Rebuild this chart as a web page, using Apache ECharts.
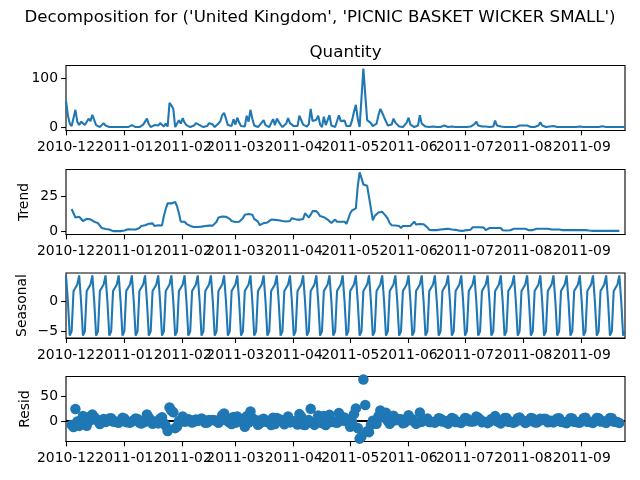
<!DOCTYPE html>
<html>
<head>
<meta charset="utf-8">
<style>html,body{margin:0;padding:0;background:#fff}#c{width:640px;height:480px}</style>
<script src="https://cdn.jsdelivr.net/npm/echarts@6/dist/echarts.min.js"></script>
</head>
<body>
<div id="c"></div>
<script>
const suptitle = "Decomposition for ('United Kingdom', 'PICNIC BASKET WICKER SMALL')";
const panelTitle = "Quantity";
const monthTicks = ['2010-12-01','2011-01-01','2011-02-01','2011-03-01','2011-04-01','2011-05-01','2011-06-01','2011-07-01','2011-08-01','2011-09-01'];
const startDate = '2010-12-01';
const dayCount = 298;

const quantity = [
54,25,8,3,5,36,12,
5,12,12,5,1,18,13,
26,15,5,1,1,3,9,
4,2,1,1,1,1,1,
1,1,1,1,1,1,1,
5,3,1,1,1,1,6,
7,18,7,1,2,5,4,
4,9,6,2,8,2,50,
45,38,1,2,15,8,19,
10,5,3,1,2,4,9,
8,5,3,1,2,3,9,
10,6,1,2,8,13,25,
30,18,5,1,3,17,6,
20,10,3,1,2,24,12,
36,18,4,5,1,2,10,
15,5,1,1,2,17,5,
18,12,6,1,2,8,19,
9,9,3,1,3,24,20,
6,5,2,7,38,13,10,
16,24,6,1,22,5,8,
25,4,1,1,5,25,13,
12,14,3,1,3,15,32,
46,18,1,2,120,67,15,
14,9,3,1,8,25,38,
30,21,22,4,2,6,18,
10,8,2,1,1,3,10,
20,6,2,1,1,4,25,
8,7,2,3,1,1,2,
2,1,1,1,2,4,2,
1,4,2,1,1,1,1,
1,1,1,1,3,2,5,
7,12,4,1,2,3,2,
1,1,1,2,14,4,3,
2,2,1,2,1,2,1,
3,1,2,4,6,4,1,
4,2,1,1,1,1,4,
11,4,1,1,1,2,5,
3,2,1,2,1,1,1,
1,1,1,1,1,1,1,
2,1,1,2.5,1,1,1,
1,1,1,1,1,2.5,1,
1,1,1,1,1,1,1,
1,1,1,1];

const trend = [
null,null,null,16,15.5,10,10.3,
10.5,10.5,7.5,7.5,9,8.7,8.7,
8.5,7,6.5,6,5.5,2.5,2,
1.8,1.7,1.5,0.5,0.3,0.3,0.3,
0.3,0.3,0.4,0.8,1.5,1.6,1.5,
1.5,1.5,1.5,2,2.5,4,4.2,
4.5,5,5.5,5.5,5.8,4,4.3,
4.5,4.5,4.3,11,16,20,20,
20,20.5,21,18,13,7,7.3,
7,5.5,5,4,3.5,3.2,3,
3.2,3.3,3.5,3.5,4,4.2,4.2,
4,4.2,5,7,10,10.5,10.7,
10.5,10.5,11.5,9,7.5,7,6.8,
6.8,7,8,9.5,12,12.5,12.5,
12.5,12,9,8.5,7,4.5,4.5,
6,6.5,6.5,7,8.5,8.5,8.3,
7.5,8,9,7.5,7,7.2,7.3,
7.5,9.5,9.3,8.8,8.5,8.3,8.5,
9,13,11.5,10,12,14.5,15,
14.5,13,11,10.3,10.2,11,8.5,
8.3,6,7,8.5,7,7,7,
7,7,5.5,9,13,15,15.5,
16.5,32,42,38,33.5,33,32.5,
32,16.5,8,11,12,13.5,14,
14,14,11,9,6,4.5,4.5,
4.3,4,4,2.5,4,4,4,
4,4,4.2,7,5,5.2,5.3,
5.3,5.2,5,3,1.2,1,1,
1,1,1.3,1.5,1.5,1.7,2,
2,2,1.5,1.3,1.2,0.8,0.6,
0.5,0.5,0.7,1,1.1,1.3,3,
3,3,3,3,3,2.8,1,
1,2.5,2.5,2.5,2.5,2.5,2.5,
2.5,0.9,0.8,0.8,0.9,0.9,1,
2,2,2,2,2,2,2,
2,0.9,0.8,1,2,2,2,
2,2,2,2,2,1.5,1.5,
1.5,1.5,1.5,1.5,1,1,1,
1,1,1,1,1,1,1,
1,1,1.1,1,0.9,0.7,0.6,
0.5,0.5,0.5,0.5,0.5,0.5,0.5,
0.5,0.5,0.5,0.5,0.5,0.5,0.5,
0.5,null,null,null];

const seasonal = [
4.3,0,-5.7,-5,1.7,1.9,2.8, 4.3,0,-5.7,-5,1.7,1.9,2.8,
4.3,0,-5.7,-5,1.7,1.9,2.8, 4.3,0,-5.7,-5,1.7,1.9,2.8,
4.3,0,-5.7,-5,1.7,1.9,2.8, 4.3,0,-5.7,-5,1.7,1.9,2.8,
4.3,0,-5.7,-5,1.7,1.9,2.8, 4.3,0,-5.7,-5,1.7,1.9,2.8,
4.3,0,-5.7,-5,1.7,1.9,2.8, 4.3,0,-5.7,-5,1.7,1.9,2.8,
4.3,0,-5.7,-5,1.7,1.9,2.8, 4.3,0,-5.7,-5,1.7,1.9,2.8,
4.3,0,-5.7,-5,1.7,1.9,2.8, 4.3,0,-5.7,-5,1.7,1.9,2.8,
4.3,0,-5.7,-5,1.7,1.9,2.8, 4.3,0,-5.7,-5,1.7,1.9,2.8,
4.3,0,-5.7,-5,1.7,1.9,2.8, 4.3,0,-5.7,-5,1.7,1.9,2.8,
4.3,0,-5.7,-5,1.7,1.9,2.8, 4.3,0,-5.7,-5,1.7,1.9,2.8,
4.3,0,-5.7,-5,1.7,1.9,2.8, 4.3,0,-5.7,-5,1.7,1.9,2.8,
4.3,0,-5.7,-5,1.7,1.9,2.8, 4.3,0,-5.7,-5,1.7,1.9,2.8,
4.3,0,-5.7,-5,1.7,1.9,2.8, 4.3,0,-5.7,-5,1.7,1.9,2.8,
4.3,0,-5.7,-5,1.7,1.9,2.8, 4.3,0,-5.7,-5,1.7,1.9,2.8,
4.3,0,-5.7,-5,1.7,1.9,2.8, 4.3,0,-5.7,-5,1.7,1.9,2.8,
4.3,0,-5.7,-5,1.7,1.9,2.8, 4.3,0,-5.7,-5,1.7,1.9,2.8,
4.3,0,-5.7,-5,1.7,1.9,2.8, 4.3,0,-5.7,-5,1.7,1.9,2.8,
4.3,0,-5.7,-5,1.7,1.9,2.8, 4.3,0,-5.7,-5,1.7,1.9,2.8,
4.3,0,-5.7,-5,1.7,1.9,2.8, 4.3,0,-5.7,-5,1.7,1.9,2.8,
4.3,0,-5.7,-5,1.7,1.9,2.8, 4.3,0,-5.7,-5,1.7,1.9,2.8,
4.3,0,-5.7,-5,1.7,1.9,2.8, 4.3,0,-5.7,-5,1.7,1.9,2.8,
4.3,0,-5.7,-5];

const resid = [
null,null,null,-8,-12.2,24.1,-1.1,
-9.8,1.5,10.2,2.5,-9.7,7.4,1.5,
13.2,8,4.2,0,-6.2,-1.4,4.2,
-2.1,0.3,5.2,5.5,-1,-1.2,-2.1,
-3.6,0.7,6.3,5.2,-2.2,-2.5,-3.3,
-0.8,1.5,5.2,4,-3.2,-4.9,-1,
-1.8,13,7.2,0.5,-5.5,-0.9,-3.1,
-4.8,4.5,7.4,-4,-9.7,-19.9,27.2,
20.7,17.5,-14.3,-11,0.3,-0.9,8.9,
-1.3,-0.5,3.7,2,-3.2,-1.1,3.2,
0.5,1.7,5.2,2.5,-3.7,-3.1,2,
1.7,1.8,1.7,0,-3.7,0.6,11.5,
15.2,7.5,-0.8,-3,-6.2,8.1,-3.6,
8.9,3,0.7,-3.5,-11.7,9.6,-3.3,
19.2,6,0.7,1.5,-7.7,-4.4,2.7,
4.7,-1.5,0.2,-1,-8.2,6.6,-6.1,
6.2,4,2.7,-1.5,-6.7,-1.1,8.9,
-2.8,-0.5,-0.6,-2.8,-7.2,13.8,8.7,
-7.3,-8,-3.8,2,24.3,-3.4,-7.8,
-2.8,11,0.7,-4.3,10.1,-7.9,-3.3,
12.4,-2,-0.3,-2.5,-3.7,16.1,3.2,
0.7,7,3.2,-3,-11.7,-1.9,13.7,
25.2,-14,-35.3,-31,83,32.1,-20.3,
-22.3,-7.5,0.7,-5,-5.7,9.6,21.2,
11.7,7,16.7,0,-5.7,-0.4,10.7,
1.4,4,3.7,3.5,-4.7,-2.9,3.2,
11.7,2,3.5,-1,-5.7,-3.1,16.9,
-1.6,1.8,2.7,5,-1.9,-1.9,-1.8,
-3.3,0,5.4,4.5,-1.2,0.4,-2.8,
-5.3,2,6.2,4.7,-1.9,-1.7,-2.4,
-3.8,0.5,6,5,0.2,-1.2,-0.8,
-0.3,9,6.7,3,-2.7,-1.7,-1.8,
-4.3,-1.5,4.2,4.5,9.8,-0.4,-2.3,
-4.8,1.1,5.9,6.2,-1.6,-0.8,-2.8,
-3.3,-1,5.7,7,2.3,0.1,-3.8,
-2.3,1.1,5.9,5,-2.7,-2.9,-0.8,
4.7,2,4.7,4,-2.7,-1.4,0.7,
-2.8,0.5,5.2,5.5,-1.7,-1.9,-2.8,
-4.3,0,5.7,5,-1.7,-1.9,-2.8,
-3.3,0,5.6,6.5,-1.6,-1.6,-2.4,
-3.8,0.5,6.2,5.5,-1.2,0.1,-2.3,
-3.8,0.5,6.2,5.5,-1.2,-1.4,-2.3,
-3.8,null,null,null];

const dates = [];
for (let i = 0; i < dayCount; i++) {
  dates.push(new Date(Date.parse(startDate + 'T00:00:00Z') + i * 864e5).toISOString().slice(0, 10));
}

const FONT = 'DejaVu Sans', FS = 13.9, BLUE = '#1f77b4';
const panels = [
  {top: 65.5,  name: '',         gap: 34, min: -6,    max: 126,  ticks: [0, 100]},
  {top: 169.5, name: 'Trend',    gap: 35, min: -2.1,  max: 44.1, ticks: [0, 25]},
  {top: 273,   name: 'Seasonal', gap: 37, min: -6.1,  max: 4.7,  ticks: [-5, 0]},
  {top: 376.5, name: 'Resid',    gap: 34, min: -41,   max: 89,   ticks: [0, 50]}
];
const isMonthTick = (i, v) => monthTicks.includes(v);

const option = {
  animation: false,
  backgroundColor: '#fff',
  textStyle: {fontFamily: FONT},
  title: [
    {text: suptitle, left: 320, textAlign: 'center', top: 9, padding: 0,
     textStyle: {fontFamily: FONT, fontSize: 16.67, fontWeight: 'normal', color: '#000'}},
    {text: panelTitle, left: 345.5, textAlign: 'center', top: 44, padding: 0,
     textStyle: {fontFamily: FONT, fontSize: 16.67, fontWeight: 'normal', color: '#000'}}
  ],
  grid: panels.map(p => ({show: true, left: 66, width: 559, top: p.top, height: 65,
    borderColor: '#000', borderWidth: 1.1, backgroundColor: 'transparent', containLabel: false})),
  xAxis: panels.map((p, i) => ({
    type: 'category', gridIndex: i, data: dates, boundaryGap: false, position: 'bottom',
    axisLine: {show: true, onZero: false, lineStyle: {color: '#000', width: 1.1}},
    axisTick: {show: true, interval: isMonthTick, length: 4.9, lineStyle: {color: '#000', width: 1.1}},
    axisLabel: {show: true, interval: isMonthTick, margin: 10, color: '#000', fontFamily: FONT, fontSize: FS,
      hideOverlap: false, formatter: v => v.slice(0, 7)},
    splitLine: {show: false}
  })),
  yAxis: panels.map((p, i) => ({
    type: 'value', gridIndex: i, min: p.min, max: p.max, name: p.name,
    nameLocation: 'middle', nameGap: p.gap, nameMoveOverlap: false,
    nameRotate: 90,
    nameTextStyle: {fontFamily: FONT, fontSize: FS, color: '#000'},
    axisLine: {show: false},
    axisTick: {show: true, length: 4.9, customValues: p.ticks, lineStyle: {color: '#000', width: 1.1}},
    axisLabel: {show: true, margin: 8, color: '#000', fontFamily: FONT, fontSize: FS,
      customValues: p.ticks, formatter: v => String(v).replace('-', '\u2212')},
    splitLine: {show: false}
  })),
  series: [
    {type: 'line', name: 'Quantity', xAxisIndex: 0, yAxisIndex: 0, data: quantity, showSymbol: false, symbol: 'none',
     lineStyle: {color: BLUE, width: 2.08}, silent: true},
    {type: 'line', name: 'Trend', xAxisIndex: 1, yAxisIndex: 1, data: trend, showSymbol: false, symbol: 'none',
     lineStyle: {color: BLUE, width: 2.08}, silent: true},
    {type: 'line', name: 'Seasonal', xAxisIndex: 2, yAxisIndex: 2, data: seasonal, showSymbol: false, symbol: 'none',
     lineStyle: {color: BLUE, width: 2.08}, silent: true},
    {type: 'scatter', name: 'Resid', xAxisIndex: 3, yAxisIndex: 3, data: resid, symbol: 'circle', symbolSize: 10.5, z: 3,
     itemStyle: {color: BLUE, opacity: 1}, silent: true,
     markLine: {silent: true, z: 1, symbol: 'none', label: {show: false},
       lineStyle: {color: '#000', width: 2.08, type: 'solid'}, data: [{yAxis: 0}]}}
  ]
};
echarts.init(document.getElementById('c'), null, {renderer: 'canvas'}).setOption(option);
</script>
</body>
</html>
